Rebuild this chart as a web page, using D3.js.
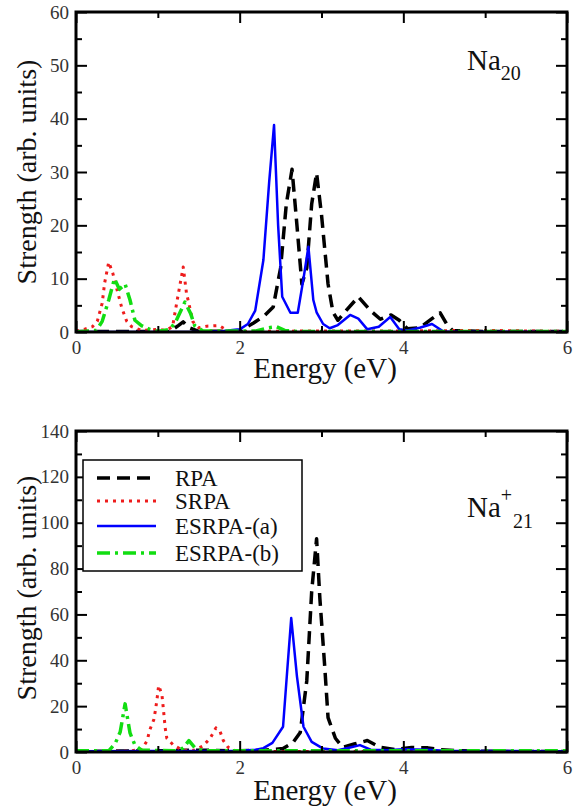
<!DOCTYPE html>
<html><head><meta charset="utf-8">
<script src="https://cdn.jsdelivr.net/npm/d3@7"></script>
<style>
html,body{margin:0;padding:0;background:#fff;}
</style></head>
<body>
<svg id="chart" width="574" height="806"></svg>
<script>
// ---------- DATA ----------
const seriesNames = ["RPA", "SRPA", "ESRPA-(a)", "ESRPA-(b)"];
const xTicksMajor = [0, 2, 4, 6];
const xTicksMinor = [1, 3, 5];
const topYTicksMajor = [0, 10, 20, 30, 40, 50, 60];
const topYTicksMinor = [5, 15, 25, 35, 45, 55];
const botYTicksMajor = [0, 20, 40, 60, 80, 100, 120, 140];
const botYTicksMinor = [10, 30, 50, 70, 90, 110, 130];

// Na20 panel: [energy eV, strength]
const na20_RPA = [[0,0.1],[1.15,0.1],[1.25,1.2],[1.31,1.9],[1.38,0.8],[1.5,0.1],[2.0,0.2],[2.17,1.7],[2.3,3],[2.41,4.7],[2.5,12],[2.57,24],[2.64,30.5],[2.7,20],[2.76,9],[2.82,12],[2.88,24],[2.94,29.8],[3.0,22],[3.08,9],[3.14,3.7],[3.2,2.2],[3.3,4],[3.45,6.6],[3.6,4],[3.72,2.4],[3.85,3.2],[3.95,2.2],[4.05,0.6],[4.2,0.8],[4.35,2.5],[4.45,3.6],[4.53,1.5],[4.6,0.3],[5,0.1],[6,0.1]];
const na20_SRPA = [[0,0.2],[0.1,0.5],[0.2,1],[0.26,2],[0.32,5.4],[0.35,9.2],[0.4,13.1],[0.45,11],[0.5,8],[0.56,4.5],[0.62,2],[0.68,1],[0.8,0.3],[1.0,0.5],[1.1,0.3],[1.18,1],[1.23,5.4],[1.31,12.2],[1.35,7.3],[1.43,1.9],[1.5,0.8],[1.6,1.1],[1.75,1.2],[1.85,0.3],[2.0,0.1],[3,0.2],[4,0.2],[5,0.3],[6,0.1]];
const na20_ESRPAa = [[0,0],[1.5,0],[1.8,0.2],[2.0,0.5],[2.1,1.5],[2.19,4],[2.29,13.5],[2.36,28],[2.42,38.8],[2.47,20],[2.52,6.6],[2.62,3.6],[2.71,3.6],[2.78,10],[2.84,16],[2.9,6],[2.94,3.7],[3.02,1.5],[3.1,0.7],[3.2,1.3],[3.35,3.2],[3.45,2.5],[3.56,0.5],[3.7,1],[3.84,2.8],[3.95,0.5],[4.05,0.3],[4.2,0.8],[4.35,1.5],[4.49,0.1],[6,0]];
const na20_ESRPAb = [[0,0],[0.25,0.3],[0.32,2],[0.4,6],[0.47,10],[0.53,8],[0.6,9],[0.66,6],[0.72,2.2],[0.8,1.2],[0.9,0.5],[1.0,0.1],[1.15,0.5],[1.22,2],[1.33,5.6],[1.4,3.5],[1.45,1.2],[1.55,0.2],[2.2,0.2],[2.35,0.8],[2.45,1],[2.55,0.3],[2.7,0.1],[6,0.1]];

// Na21+ panel
const na21_RPA = [[0,0.3],[1.0,0.5],[1.5,0.8],[2.0,0.5],[2.3,0.8],[2.53,1.5],[2.65,4],[2.74,8.5],[2.82,31],[2.88,70],[2.94,93],[2.98,67],[3.04,37],[3.08,15],[3.17,6],[3.26,2],[3.4,3.5],[3.56,5],[3.72,2],[3.9,1],[4.1,2],[4.3,1.8],[4.45,1],[4.7,0.5],[5,0.3],[6,0.2]];
const na21_SRPA = [[0,0.2],[0.6,0.3],[0.8,1],[0.87,5],[0.9,9.5],[0.95,14],[0.97,18],[0.99,23],[1.01,29],[1.05,25],[1.07,18],[1.09,10.5],[1.11,6],[1.19,3],[1.3,0.8],[1.45,0.8],[1.55,2.6],[1.64,6],[1.71,10.5],[1.76,9],[1.8,5],[1.86,2],[1.95,0.5],[2.2,0.2],[6,0.2]];
const na21_ESRPAa = [[0,0.3],[2.0,0.5],[2.2,1],[2.29,1.7],[2.4,4],[2.53,11],[2.58,35],[2.63,58.4],[2.7,33],[2.78,11],[2.88,4.4],[3.02,1.5],[3.2,0.8],[3.35,2],[3.47,3],[3.6,1],[3.8,0.8],[4.0,1.2],[4.3,1],[4.5,0.5],[6,0.3]];
const na21_ESRPAb = [[0,0.5],[0.4,0.5],[0.48,3.8],[0.54,8.7],[0.6,21],[0.66,8.3],[0.72,3],[0.8,0.8],[1.2,0.5],[1.31,1.7],[1.38,5],[1.45,2],[1.55,0.5],[6,0.5]];

// ---------- STYLES ----------
const FONT = "Liberation Serif";
const styles = {
  "RPA":       {color:"#000000", width:3.5, dash:"13,7"},
  "SRPA":      {color:"#ee1c1c", width:3,   dash:"3,5"},
  "ESRPA-(a)": {color:"#0000ff", width:2.5, dash:null},
  "ESRPA-(b)": {color:"#11dd11", width:3.5, dash:"13,5,3,5"}
};

const svg = d3.select("#chart");
const L = 76, R = 567;

function panel(cfg) {
  const x = d3.scaleLinear().domain([0, 6]).range([L, R]);
  const y = d3.scaleLinear().domain([0, cfg.ymax]).range([cfg.bottom, cfg.top]);
  const g = svg.append("g");
  const clipId = "clip" + cfg.id;
  svg.append("defs").append("clipPath").attr("id", clipId)
    .append("rect").attr("x", L).attr("y", cfg.top).attr("width", R - L).attr("height", cfg.bottom - cfg.top);

  const line = d3.line().x(d => x(d[0])).y(d => y(d[1]));
  const lines = g.append("g").attr("clip-path", `url(#${clipId})`);
  cfg.series.forEach((s, i) => {
    const st = styles[seriesNames[i]];
    lines.append("path").datum(s).attr("d", line)
      .attr("fill", "none").attr("stroke", st.color).attr("stroke-width", st.width)
      .attr("stroke-dasharray", st.dash).attr("stroke-linejoin", "round");
  });

  const tickStyle = sel => {
    sel.attr("font-family", FONT);
    sel.select(".domain").remove();
    sel.selectAll("line").attr("stroke", "#000").attr("stroke-width", 2);
  };
  g.append("g").attr("transform", `translate(0,${cfg.bottom})`)
    .call(d3.axisBottom(x).tickValues(xTicksMajor).tickSize(-11).tickFormat(d3.format("d")))
    .call(tickStyle)
    .call(s => s.selectAll("text").attr("font-family", FONT).attr("font-size", 19).attr("fill", "#333").attr("y", 9).attr("dy", "0.71em"));
  g.append("g").attr("transform", `translate(0,${cfg.bottom})`)
    .call(d3.axisBottom(x).tickValues(xTicksMinor).tickSize(-6).tickFormat(""))
    .call(tickStyle);
  g.append("g").attr("transform", `translate(0,${cfg.top})`)
    .call(d3.axisTop(x).tickValues(xTicksMajor).tickSize(-11).tickFormat(""))
    .call(tickStyle);
  g.append("g").attr("transform", `translate(0,${cfg.top})`)
    .call(d3.axisTop(x).tickValues(xTicksMinor).tickSize(-6).tickFormat(""))
    .call(tickStyle);
  g.append("g").attr("transform", `translate(${L},0)`)
    .call(d3.axisLeft(y).tickValues(cfg.yMajor).tickSize(-11).tickFormat(d3.format("d")))
    .call(tickStyle)
    .call(s => s.selectAll("text").attr("font-family", FONT).attr("font-size", 19).attr("fill", "#333").attr("x", -7));
  g.append("g").attr("transform", `translate(${L},0)`)
    .call(d3.axisLeft(y).tickValues(cfg.yMinor).tickSize(-6).tickFormat(""))
    .call(tickStyle);
  g.append("g").attr("transform", `translate(${R},0)`)
    .call(d3.axisRight(y).tickValues(cfg.yMajor).tickSize(-11).tickFormat(""))
    .call(tickStyle);
  g.append("g").attr("transform", `translate(${R},0)`)
    .call(d3.axisRight(y).tickValues(cfg.yMinor).tickSize(-6).tickFormat(""))
    .call(tickStyle);

  g.append("rect").attr("x", L).attr("y", cfg.top).attr("width", R - L).attr("height", cfg.bottom - cfg.top)
    .attr("fill", "none").attr("stroke", "#000").attr("stroke-width", 3);

  g.append("text").attr("x", 325).attr("y", cfg.xlabY).attr("text-anchor", "middle")
    .attr("font-family", FONT).attr("font-size", 29).attr("fill", "#111").text("Energy (eV)");
  g.append("text").attr("transform", `translate(36,${cfg.ylabC}) rotate(-90)`).attr("text-anchor", "middle")
    .attr("font-family", FONT).attr("font-size", 28).attr("fill", "#111").text("Strength (arb. units)");
  return {x, y, g};
}

panel({id:1, top:12, bottom:332, ymax:60, yMajor:topYTicksMajor, yMinor:topYTicksMinor,
  series:[na20_RPA, na20_SRPA, na20_ESRPAa, na20_ESRPAb], xlabY:378, ylabC:172});
panel({id:2, top:431, bottom:752, ymax:140, yMajor:botYTicksMajor, yMinor:botYTicksMinor,
  series:[na21_RPA, na21_SRPA, na21_ESRPAa, na21_ESRPAb], xlabY:800, ylabC:588});

// panel labels
const t1 = svg.append("text").attr("x", 467).attr("y", 70).attr("font-family", FONT).attr("font-size", 29).attr("fill", "#111");
t1.append("tspan").text("Na");
t1.append("tspan").attr("font-size", 20).attr("dy", 10).text("20");

const t2 = svg.append("text").attr("x", 467).attr("y", 517).attr("font-family", FONT).attr("font-size", 29).attr("fill", "#111");
t2.append("tspan").text("Na");
t2.append("tspan").attr("font-size", 20).attr("dy", -15).text("+");
t2.append("tspan").attr("font-size", 20).attr("x", 513).attr("dy", 26).text("21");

// legend
const lg = svg.append("g");
lg.append("rect").attr("x", 83).attr("y", 460).attr("width", 219).attr("height", 111)
  .attr("fill", "#fff").attr("stroke", "#000").attr("stroke-width", 1.5);
const legendY = [478, 501, 526, 553];
seriesNames.forEach((n, i) => {
  const st = styles[n];
  lg.append("line").attr("x1", 97).attr("x2", 156).attr("y1", legendY[i]).attr("y2", legendY[i])
    .attr("stroke", st.color).attr("stroke-width", st.width).attr("stroke-dasharray", st.dash);
  lg.append("text").attr("x", 175).attr("y", legendY[i] + 8).attr("font-family", FONT)
    .attr("font-size", 23).attr("fill", "#111").text(n);
});
</script>
</body></html>
